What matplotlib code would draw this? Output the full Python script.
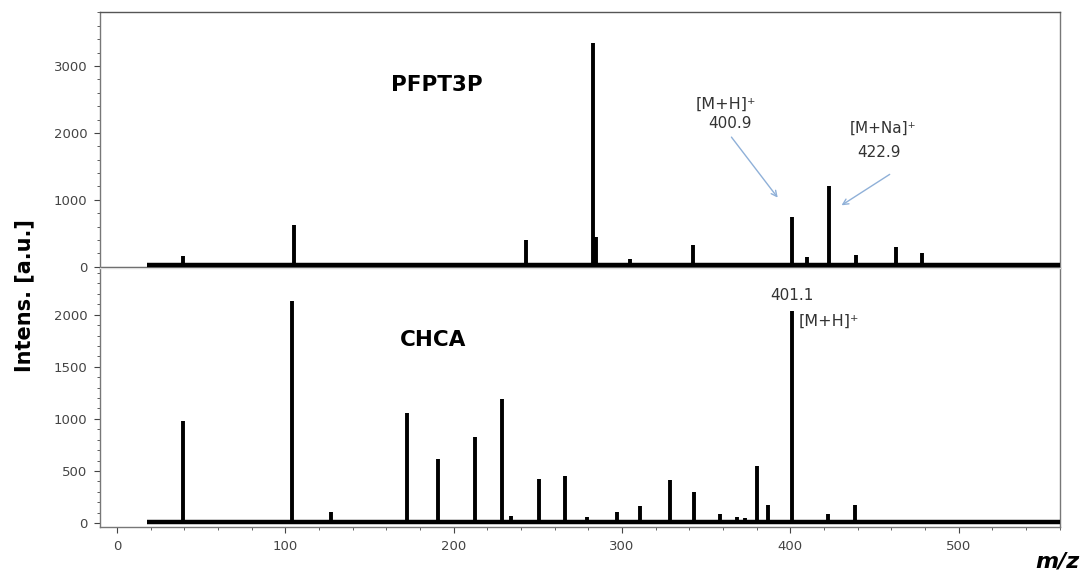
import matplotlib
matplotlib.use("Agg")
import matplotlib.pyplot as plt
from matplotlib.ticker import AutoMinorLocator, MultipleLocator

# PFPT3P spectrum (top): peak m/z and intensity
pfpt_mz = [39, 105, 243, 282.5, 284.5, 305, 328, 342, 368, 401, 410, 423, 439, 463, 478]
pfpt_int = [160, 630, 400, 3340, 450, 120, 60, 330, 40, 750, 150, 1200, 180, 300, 210]

# CHCA spectrum (bottom)
chca_mz = [39, 104, 127, 172.5, 190.5, 212.5, 228.5, 234, 250.5, 266, 279, 297, 310.5,
           328.5, 342.5, 358.5, 368.5, 373, 380, 387, 400.8, 422.5, 438.5]
chca_int = [980, 2130, 110, 1060, 615, 830, 1190, 70, 425, 455, 60, 110, 160,
            410, 300, 90, 60, 50, 550, 170, 2040, 90, 170]

mz_range = [18, 560]
x_ticks = [0, 100, 200, 300, 400, 500]

tick_col = "#444444"
spine_col = "#777777"
note_col = "#333333"

fig = plt.figure(figsize=(10.88, 5.71), dpi=100)
ax1 = fig.add_axes([0.092, 0.531, 0.882, 0.448])
ax2 = fig.add_axes([0.092, 0.077, 0.882, 0.454])


def draw_spectrum(ax, mz, inten, base):
    ax.plot(mz_range, [base, base], color="black", lw=3.2, solid_capstyle="butt", zorder=3)
    ax.vlines(mz, base, inten, color="black", lw=2.8, zorder=3)


draw_spectrum(ax1, pfpt_mz, pfpt_int, 30)
draw_spectrum(ax2, chca_mz, chca_int, 10)

ax1.set_xlim(-10, 560)
ax2.set_xlim(-10, 560)
ax1.set_ylim(-15, 3806)
ax2.set_ylim(-38, 2450)

ax1.axhline(0, color="#555555", lw=1.0, zorder=2)

for ax in (ax1, ax2):
    for s in ax.spines.values():
        s.set_color(spine_col)
        s.set_linewidth(1.0)
    ax.tick_params(axis="both", colors=tick_col, labelcolor=tick_col, labelsize=9.5,
                   direction="out", length=4, width=0.8, pad=5)
    ax.tick_params(which="minor", length=2, width=0.6, colors=tick_col)
    ax.yaxis.set_minor_locator(AutoMinorLocator(5))

ax1.spines["bottom"].set_visible(False)
ax1.spines["top"].set_color("#555555")
ax1.set_xticks([])
ax1.yaxis.set_major_locator(MultipleLocator(1000))
ax2.spines["top"].set_color("#dddddd")
ax2.yaxis.set_major_locator(MultipleLocator(500))
ax2.set_xticks(x_ticks)
ax2.xaxis.set_minor_locator(MultipleLocator(20))

# labels inside panels
ax1.text(190, 2717, "PFPT3P", fontsize=15.5, fontweight="bold", ha="center", va="center")
ax2.text(188, 1760, "CHCA", fontsize=15.5, fontweight="bold", ha="center", va="center")

arrow_col = "#8fb0d8"
ax1.text(361.5, 2420, "[M+H]\u207a", fontsize=11.5, color=note_col, ha="center", va="center")
ax1.text(364, 2135, "400.9", fontsize=11, color=note_col, ha="center", va="center")
ax1.annotate("", xy=(393.5, 1000), xytext=(364, 1970),
             arrowprops=dict(arrowstyle="->", color=arrow_col, lw=1.0))
ax1.text(455, 2075, "[M+Na]\u207a", fontsize=11, color=note_col, ha="center", va="center")
ax1.text(452.7, 1700, "422.9", fontsize=11, color=note_col, ha="center", va="center")
ax1.annotate("", xy=(429, 896), xytext=(460.4, 1403),
             arrowprops=dict(arrowstyle="->", color=arrow_col, lw=1.0))

ax2.text(401.2, 2183, "401.1", fontsize=11, color=note_col, ha="center", va="center")
ax2.text(423, 1933, "[M+H]\u207a", fontsize=11.5, color=note_col, ha="center", va="center")

fig.text(0.022, 0.483, "Intens. [a.u.]", rotation=90, fontsize=15, fontweight="bold",
         ha="center", va="center")
fig.text(0.972, 0.016, "m/z", fontsize=16, fontweight="bold", fontstyle="italic",
         ha="center", va="center")

fig.savefig("out.png", dpi=100)
